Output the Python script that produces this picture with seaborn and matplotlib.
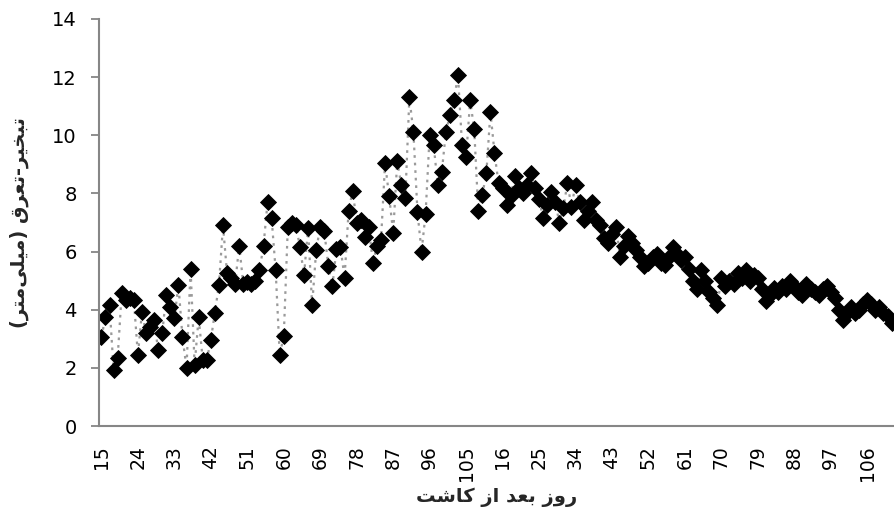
import numpy as np
import pandas as pd
import matplotlib
matplotlib.use("Agg")
import matplotlib.pyplot as plt
import seaborn as sns

# ---- data ----
season1_days = list(range(15, 111))
season1_et = [3.06, 3.75, 4.16, 1.93, 2.34, 4.57, 4.33, 4.4, 4.33, 2.44,
              3.92, 3.2, 3.4, 3.65, 2.6, 3.2, 4.5, 4.1, 3.7, 4.85,
              3.06, 2.0, 5.4, 2.1, 3.75, 2.27, 2.27, 2.96, 3.9, 4.85,
              6.9, 5.25, 5.1, 4.9, 6.2, 4.9, 4.95, 4.9, 5.0, 5.35,
              6.2, 7.7, 7.15, 5.35, 2.44, 3.1, 6.85, 7.0, 6.9, 6.15,
              5.2, 6.8, 4.15, 6.05, 6.85, 6.7, 5.5, 4.8, 6.1, 6.15,
              5.1, 7.4, 8.1, 7.0, 7.1, 6.5, 6.85, 5.6, 6.2, 6.4,
              9.05, 7.9, 6.65, 9.1, 8.3, 7.85, 11.3, 10.1, 7.35, 6.0,
              7.3, 10.0, 9.65, 8.3, 8.75, 10.1, 10.7, 11.2, 12.07, 9.65,
              9.25, 11.2, 10.2, 7.4, 7.95, 8.7]
season2_days = list(range(13, 115))
season2_et = [10.8, 9.4, 8.35, 8.2, 7.6, 7.9, 8.6, 8.2, 8.0, 8.3,
              8.7, 8.2, 7.8, 7.15, 7.6, 8.05, 7.7, 7.0, 7.5, 8.35,
              7.55, 8.3, 7.7, 7.1, 7.4, 7.7, 7.1, 6.9, 6.45, 6.3,
              6.6, 6.85, 5.8, 6.2, 6.55, 6.3, 6.05, 5.8, 5.5, 5.6,
              5.8, 5.9, 5.6, 5.55, 5.8, 6.15, 5.9, 5.7, 5.8, 5.4,
              5.0, 4.7, 5.35, 5.0, 4.6, 4.4, 4.15, 5.1, 4.8, 5.0,
              4.9, 5.25, 5.1, 5.35, 5.0, 5.2, 5.1, 4.7, 4.3, 4.5,
              4.75, 4.6, 4.8, 4.7, 5.0, 4.8, 4.6, 4.5, 4.9, 4.7,
              4.6, 4.5, 4.7, 4.8, 4.6, 4.4, 4.0, 3.65, 3.9, 4.1,
              3.9, 4.0, 4.2, 4.35, 4.2, 4.0, 4.1, 3.9, 3.8, 3.55,
              3.6, 3.4]
y_ticks = [0, 2, 4, 6, 8, 10, 12, 14]
y_label_logical = "تبخیر-تعرق (میلی\u200cمتر)"
x_label_logical = "روز بعد از کاشت"

# ---- simple Arabic-script shaping for display (presentation forms, visual order) ----
FORMS = {
    'ا': ('\uFE8D', '\uFE8E', None, None),
    'ب': ('\uFE8F', '\uFE90', '\uFE91', '\uFE92'),
    'ت': ('\uFE95', '\uFE96', '\uFE97', '\uFE98'),
    'خ': ('\uFEA5', '\uFEA6', '\uFEA7', '\uFEA8'),
    'د': ('\uFEA9', '\uFEAA', None, None),
    'ر': ('\uFEAD', '\uFEAE', None, None),
    'ز': ('\uFEAF', '\uFEB0', None, None),
    'ش': ('\uFEB5', '\uFEB6', '\uFEB7', '\uFEB8'),
    'ع': ('\uFEC9', '\uFECA', '\uFECB', '\uFECC'),
    'ق': ('\uFED5', '\uFED6', '\uFED7', '\uFED8'),
    'ک': ('\uFB8E', '\uFB8F', '\uFB90', '\uFB91'),
    'ل': ('\uFEDD', '\uFEDE', '\uFEDF', '\uFEE0'),
    'م': ('\uFEE1', '\uFEE2', '\uFEE3', '\uFEE4'),
    'و': ('\uFEED', '\uFEEE', None, None),
    'ی': ('\uFBFC', '\uFBFD', '\uFBFE', '\uFBFF'),
}


def shape_rtl(s):
    out = []
    for k, c in enumerate(s):
        if c not in FORMS:
            if c != '\u200c':
                out.append(c)
            continue
        prev = s[k - 1] if k > 0 else None
        nxt = s[k + 1] if k + 1 < len(s) else None
        iso, fin, ini, med = FORMS[c]
        jp = prev in FORMS and FORMS[prev][2] is not None
        jn = ini is not None and nxt in FORMS
        if jp and jn:
            out.append(med)
        elif jp:
            out.append(fin)
        elif jn:
            out.append(ini)
        else:
            out.append(iso)
    vis = ''.join(out)[::-1]
    return vis.translate(str.maketrans('()', ')('))


days = season1_days + season2_days
et = season1_et + season2_et
df = pd.DataFrame({"idx": np.arange(len(days)), "day": days, "et": et})

sns.set_style("white")
plt.rcParams['font.family'] = ['DejaVu Sans']

fig = plt.figure(figsize=(8.94, 5.28), dpi=100)
W, H = 894, 528
ax = fig.add_axes([99 / W, (H - 426) / H, (W - 99) / W, (426 - 19) / H])

sns.lineplot(data=df, x="idx", y="et", sort=False, estimator=None, ax=ax,
             color="#9a9a9a", linewidth=1.6, linestyle=(0, (1.2, 2.2)),
             marker="D", markersize=8, markerfacecolor="black",
             markeredgecolor="black", markeredgewidth=0.6)

ax.set_xlim(-0.6, 195.6)
ax.set_ylim(0, 14)
ax.set_yticks(y_ticks)
ax.set_yticklabels([str(v) for v in y_ticks], fontsize=14)
tick_pos = list(range(0, len(days), 9))
ax.set_xticks(tick_pos)
ax.set_xticklabels([str(days[i]) for i in tick_pos], rotation=90, fontsize=13.5)

for s in ["top", "right"]:
    ax.spines[s].set_visible(False)
for s in ["left", "bottom"]:
    ax.spines[s].set_color("#868686")
    ax.spines[s].set_linewidth(1.5)
ax.tick_params(axis="y", which="major", left=True, length=6, width=1.3,
               color="#868686", pad=10, labelcolor="black")
ax.tick_params(axis="x", which="major", bottom=False, length=0, pad=14,
               labelcolor="black")

ax.set_xlabel(shape_rtl(x_label_logical), fontsize=14, fontweight="bold")
ax.set_ylabel(shape_rtl(y_label_logical), fontsize=14, fontweight="bold")
ax.yaxis.set_label_coords(-70 / (W - 99), 0.5)
ax.xaxis.set_label_coords(0.5, -(488 - 426) / (426 - 19))
ax.xaxis.label.set_verticalalignment("top")
ax.grid(False)

fig.savefig("out.png", dpi=100)
